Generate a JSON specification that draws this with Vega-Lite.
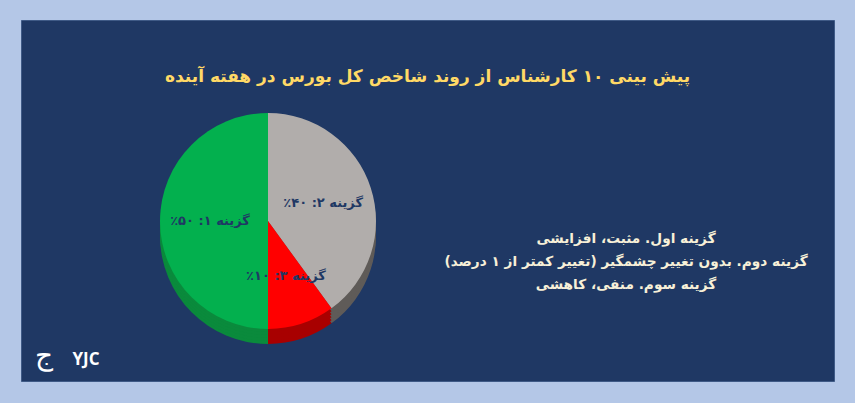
{
  "$schema": "https://vega.github.io/schema/vega-lite/v6.json",
  "width": 813,
  "height": 361,
  "autosize": {"type": "none"},
  "padding": {"left": 21, "top": 20, "right": 21, "bottom": 22},
  "background": "#b4c7e7",
  "view": {"fill": "#1f3864", "stroke": "#3f5a86", "strokeWidth": 1},
  "title": {
    "text": "پیش بینی ۱۰ کارشناس از روند شاخص کل بورس در هفته آینده‏",
    "font": "DejaVu Sans",
    "fontSize": 17,
    "fontWeight": "bold",
    "color": "#ffd966",
    "anchor": "middle",
    "frame": "group",
    "orient": "top",
    "offset": -66
  },
  "datasets": {
    "pie": [
      {"option": 1, "label": "گزینه ۱: ۵۰٪‏", "desc": "گزینه اول. مثبت، افزایشی‏", "value": 50},
      {"option": 2, "label": "گزینه ۲: ۴۰٪‏", "desc": "گزینه دوم. بدون تغییر چشمگیر (تغییر کمتر از ۱ درصد)‏", "value": 40},
      {"option": 3, "label": "گزینه ۳: ۱۰٪‏", "desc": "گزینه سوم. منفی، کاهشی‏", "value": 10}
    ]
  },
  "layer": [
    {
      "data": {"name": "pie"},
      "encoding": {
        "theta": {"field": "value", "type": "quantitative", "stack": true, "scale": {"range": [3.14159265, 9.42477796]}},
        "order": {"field": "option", "type": "ordinal"}
      },
      "layer": [
        {
          "mark": {"type": "arc", "x": 247, "y": 216, "outerRadius": 108},
          "encoding": {
            "fill": {
              "field": "desc",
              "type": "nominal",
              "scale": {"domain": ["گزینه اول. مثبت، افزایشی‏", "گزینه دوم. بدون تغییر چشمگیر (تغییر کمتر از ۱ درصد)‏", "گزینه سوم. منفی، کاهشی‏"], "range": ["#0a8a3c", "#5f5b58", "#a80000"]},
              "legend": null
            }
          }
        },
        {"mark": {"type": "arc", "x": 247, "y": 213, "outerRadius": 108}, "encoding": {"fill": {"field": "desc", "type": "nominal", "legend": null}}},
        {"mark": {"type": "arc", "x": 247, "y": 210, "outerRadius": 108}, "encoding": {"fill": {"field": "desc", "type": "nominal", "legend": null}}},
        {"mark": {"type": "arc", "x": 247, "y": 207, "outerRadius": 108}, "encoding": {"fill": {"field": "desc", "type": "nominal", "legend": null}}},
        {"mark": {"type": "arc", "x": 247, "y": 204, "outerRadius": 108}, "encoding": {"fill": {"field": "desc", "type": "nominal", "legend": null}}},
        {
          "mark": {"type": "arc", "x": 247, "y": 201, "outerRadius": 108},
          "encoding": {
            "color": {
              "field": "desc",
              "type": "nominal",
              "scale": {"domain": ["گزینه اول. مثبت، افزایشی‏", "گزینه دوم. بدون تغییر چشمگیر (تغییر کمتر از ۱ درصد)‏", "گزینه سوم. منفی، کاهشی‏"], "range": ["#03b04e", "#b1adab", "#ff0000"]},
              "legend": null
            }
          }
        },
        {
          "mark": {"type": "text", "x": 247, "y": 201, "radius": 58, "font": "DejaVu Sans", "fontSize": 13, "fontWeight": "bold", "color": "#1f3864"},
          "encoding": {"text": {"field": "label"}}
        }
      ]
    },
    {
      "data": {"name": "pie"},
      "mark": {"type": "text", "x": 605, "align": "center", "baseline": "middle", "font": "DejaVu Sans", "fontSize": 13.7, "fontWeight": "bold", "color": "#f7f0d8"},
      "encoding": {
        "y": {"field": "option", "type": "ordinal", "axis": null, "scale": {"type": "point", "range": [219, 265], "padding": 0}},
        "text": {"field": "desc"}
      }
    },
    {
      "data": {"values": [{"t": "YJC"}]},
      "mark": {"type": "text", "x": 65, "y": 340, "font": "Open Sans", "fontSize": 17, "fontWeight": "bold", "color": "#ffffff"},
      "encoding": {"text": {"field": "t"}}
    },
    {
      "data": {"values": [{"t": "ج"}]},
      "mark": {"type": "text", "x": 23, "y": 337, "font": "DejaVu Serif", "fontSize": 28, "color": "#ffffff"},
      "encoding": {"text": {"field": "t"}}
    }
  ]
}
